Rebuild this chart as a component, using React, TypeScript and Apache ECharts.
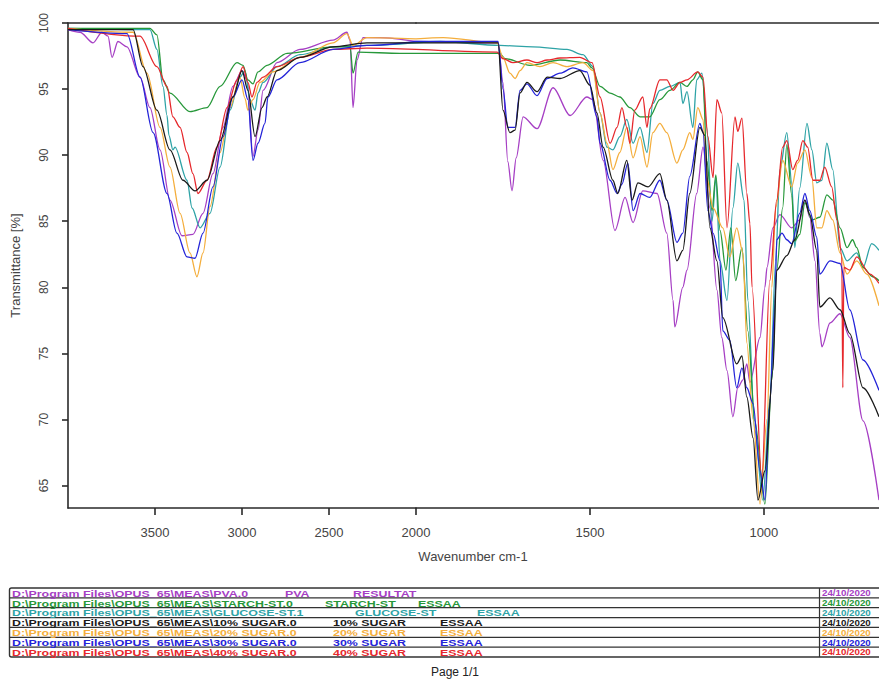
import React, { useEffect, useRef } from "react";
import * as echarts from "echarts";

// ---- axis ticks ----
const xTicksHigh = [2000, 2500, 3000, 3500];
const xTicksLow = [1000, 1500];
const yTicks = [65, 70, 75, 80, 85, 90, 95, 100];

// ---- series (wavenumber cm-1, transmittance %) ----
const pva = [
  [4000, 99.5], [3931, 99.3], [3856, 98.5], [3805, 99.3], [3770, 99.0], [3747, 97.4], [3713, 98.6], [3661, 98.2],
  [3586, 95.9], [3529, 93.6], [3471, 90.4], [3414, 86.6], [3345, 83.9], [3282, 84.0], [3224, 85.6], [3167, 88.6],
  [3109, 92.1], [3052, 95.2], [3000, 96.4], [2971, 95.7], [2937, 89.9], [2908, 91.9], [2879, 94.9], [2799, 97.0],
  [2667, 98.0], [2477, 98.7], [2397, 99.3], [2379, 98.7], [2362, 93.6], [2339, 97.2], [2305, 98.9], [2207, 98.9],
  [2000, 98.6], [1764, 98.5], [1750, 95.5], [1736, 89.5], [1724, 87.3], [1712, 89.8], [1692, 92.9], [1652, 92.0],
  [1606, 95.1], [1557, 93.0], [1509, 94.4], [1491, 94.2], [1462, 89.6], [1428, 84.3], [1399, 86.8], [1376, 84.9],
  [1348, 87.3], [1307, 87.1], [1279, 84.1], [1261, 79.0], [1256, 77.0], [1233, 80.0], [1221, 81.3], [1193, 87.1],
  [1175, 90.6], [1155, 86.0], [1135, 79.8], [1121, 76.2], [1106, 73.7], [1089, 70.2], [1075, 72.4], [1060, 73.0],
  [1049, 74.2], [1040, 72.8], [1011, 76.2], [997, 80.0], [991, 81.5], [974, 84.5], [954, 85.5], [920, 84.5],
  [897, 85.1], [882, 86.6], [868, 85.3], [853, 82.0], [839, 76.5], [833, 75.5], [810, 77.3], [781, 78.0],
  [753, 76.2], [715, 69.9], [669, 63.9],
];
const starch = [
  [4000, 99.6], [3529, 99.6], [3489, 99.1], [3454, 95.7], [3414, 94.7], [3299, 93.3], [3201, 93.6], [3126, 95.2],
  [3029, 97.0], [2994, 96.8], [2966, 95.7], [2937, 95.4], [2908, 96.3], [2856, 96.8], [2741, 97.7], [2477, 98.2],
  [2379, 98.2], [2362, 96.2], [2333, 97.8], [2092, 97.7], [2000, 97.7], [1759, 97.7], [1744, 97.3], [1672, 96.8],
  [1586, 97.2], [1509, 97.0], [1494, 96.6], [1471, 95.2], [1442, 94.7], [1414, 94.4], [1385, 93.6], [1356, 92.9],
  [1328, 92.9], [1299, 94.2], [1270, 94.9], [1241, 95.5], [1221, 95.2], [1204, 95.7], [1190, 96.3], [1175, 95.7],
  [1164, 89.6], [1149, 85.8], [1138, 88.5], [1126, 84.3], [1109, 81.3], [1095, 84.5], [1081, 80.5], [1063, 83.0],
  [1046, 76.7], [1026, 69.9], [997, 63.6], [977, 73.0], [963, 81.3], [946, 86.0], [934, 90.8], [920, 87.0],
  [911, 83.5], [897, 84.0], [882, 86.4], [862, 85.1], [839, 85.3], [819, 87.0], [802, 86.6], [781, 84.5],
  [761, 83.0], [745, 83.6], [733, 83.0], [715, 81.5], [687, 80.8], [669, 80.5],
];
const glucose = [
  [4000, 99.6], [3529, 99.5], [3489, 98.0], [3454, 95.2], [3431, 93.0], [3420, 91.5], [3397, 90.4], [3385, 90.6],
  [3316, 88.1], [3287, 86.0], [3241, 84.5], [3184, 85.6], [3126, 89.1], [3069, 93.4], [3012, 95.9], [2983, 96.4],
  [2954, 94.2], [2925, 93.4], [2908, 94.7], [2879, 95.5], [2799, 96.7], [2667, 97.6], [2477, 98.2], [2282, 98.3],
  [2000, 98.5], [1931, 98.6], [1759, 98.3], [1664, 98.2], [1566, 98.0], [1520, 97.6], [1491, 96.7], [1471, 93.2],
  [1451, 90.6], [1434, 90.4], [1414, 91.4], [1394, 92.7], [1376, 90.9], [1356, 92.1], [1336, 90.2], [1319, 93.9],
  [1299, 94.9], [1270, 95.2], [1241, 95.5], [1233, 93.9], [1221, 94.8], [1204, 92.1], [1193, 95.7], [1178, 96.2],
  [1164, 92.1], [1149, 85.0], [1138, 88.3], [1126, 82.0], [1106, 79.0], [1089, 86.0], [1075, 89.4], [1057, 86.6],
  [1046, 79.0], [1026, 69.2], [1003, 63.9], [983, 71.5], [966, 82.0], [954, 88.9], [934, 91.7], [920, 88.0],
  [911, 83.0], [897, 87.5], [876, 92.4], [862, 90.4], [848, 87.9], [833, 88.1], [819, 90.9], [802, 88.9],
  [781, 83.0], [761, 82.0], [733, 82.6], [715, 81.5], [690, 83.3], [669, 82.8],
];
const sugar10 = [
  [4000, 99.5], [3626, 99.5], [3569, 96.7], [3489, 93.4], [3414, 90.4], [3339, 88.1], [3270, 87.3], [3201, 88.1],
  [3126, 91.1], [3052, 94.4], [3000, 96.4], [2966, 94.9], [2925, 91.4], [2885, 93.6], [2856, 94.4], [2799, 96.4],
  [2667, 97.4], [2477, 98.2], [2282, 98.5], [2000, 98.5], [1764, 98.5], [1750, 93.4], [1730, 91.7], [1715, 91.9],
  [1701, 94.7], [1681, 95.5], [1652, 94.8], [1623, 95.9], [1586, 95.8], [1529, 96.4], [1500, 95.3], [1480, 93.2],
  [1462, 90.6], [1434, 88.1], [1420, 87.1], [1394, 89.6], [1379, 86.6], [1362, 87.9], [1333, 87.6], [1299, 88.6],
  [1279, 86.6], [1250, 82.0], [1233, 82.8], [1213, 87.1], [1184, 92.1], [1170, 91.5], [1155, 84.5], [1135, 82.0],
  [1118, 77.7], [1078, 74.2], [1063, 74.8], [1049, 71.7], [1031, 68.6], [1017, 63.9], [997, 66.1], [974, 73.7],
  [963, 81.3], [934, 82.4], [911, 83.6], [882, 86.6], [868, 85.5], [848, 82.8], [839, 78.5], [810, 79.2],
  [781, 78.3], [753, 76.5], [715, 72.4], [669, 70.2],
];
const sugar20 = [
  [4000, 99.6], [3626, 99.3], [3546, 96.2], [3471, 92.1], [3414, 89.1], [3356, 85.6], [3299, 82.6], [3259, 80.8],
  [3224, 82.6], [3184, 86.1], [3126, 90.2], [3069, 93.6], [3012, 95.9], [2983, 94.3], [2966, 93.4], [2937, 94.2],
  [2897, 95.5], [2822, 96.3], [2667, 97.4], [2477, 98.5], [2397, 99.2], [2362, 98.3], [2282, 98.9], [2000, 98.8],
  [1922, 98.9], [1767, 98.5], [1750, 97.4], [1730, 96.2], [1715, 95.8], [1701, 96.4], [1681, 97.0], [1644, 96.7],
  [1606, 97.0], [1566, 96.7], [1520, 97.0], [1491, 96.4], [1471, 93.2], [1451, 90.9], [1434, 88.9], [1414, 90.2],
  [1394, 92.1], [1376, 89.8], [1356, 91.4], [1336, 89.1], [1319, 91.7], [1299, 92.4], [1279, 91.7], [1250, 89.4],
  [1233, 90.4], [1213, 91.7], [1204, 91.2], [1190, 93.6], [1175, 92.7], [1164, 88.3], [1146, 86.0], [1118, 84.5],
  [1098, 82.3], [1078, 84.5], [1060, 82.6], [1049, 75.8], [1031, 70.0], [1011, 63.6], [991, 70.0], [977, 80.0],
  [966, 86.0], [946, 89.6], [920, 87.6], [903, 89.4], [882, 90.4], [862, 88.3], [848, 84.5], [833, 84.5],
  [819, 85.8], [802, 85.1], [781, 82.6], [761, 81.0], [733, 82.0], [704, 81.0], [669, 78.6],
];
const sugar30 = [
  [4000, 99.5], [3661, 99.2], [3586, 95.9], [3511, 91.7], [3431, 87.1], [3374, 84.1], [3316, 82.3], [3270, 82.2],
  [3224, 84.1], [3167, 87.6], [3109, 91.4], [3052, 94.4], [3000, 95.7], [2966, 94.2], [2937, 89.6], [2908, 90.9],
  [2868, 92.4], [2851, 94.4], [2799, 95.7], [2667, 97.0], [2477, 98.0], [2282, 98.3], [2000, 98.6], [1764, 98.6],
  [1750, 95.0], [1736, 92.1], [1715, 92.1], [1701, 94.9], [1681, 95.4], [1652, 94.5], [1623, 95.8], [1586, 96.2],
  [1549, 96.6], [1509, 96.3], [1480, 92.9], [1471, 90.9], [1442, 88.1], [1422, 87.1], [1408, 87.8], [1391, 89.4],
  [1376, 85.8], [1356, 87.1], [1328, 86.8], [1299, 88.1], [1279, 86.6], [1250, 83.4], [1233, 84.1], [1213, 88.4],
  [1184, 92.4], [1175, 91.8], [1161, 85.8], [1146, 84.1], [1126, 82.0], [1118, 76.7], [1098, 76.0], [1078, 72.4],
  [1063, 73.9], [1049, 72.4], [1031, 71.2], [1011, 66.1], [997, 63.9], [983, 71.2], [968, 78.8], [963, 83.6],
  [948, 84.1], [934, 83.6], [920, 83.3], [897, 85.6], [882, 87.1], [868, 85.8], [848, 83.8], [839, 81.0],
  [810, 82.0], [781, 81.8], [753, 78.3], [715, 74.5], [669, 72.2],
];
const sugar40 = [
  [4000, 99.6], [3586, 99.0], [3489, 96.7], [3431, 95.2], [3397, 92.9], [3356, 92.1], [3316, 90.2], [3282, 88.6],
  [3253, 87.1], [3201, 88.1], [3144, 90.6], [3086, 93.6], [3029, 95.7], [2994, 96.7], [2966, 95.5], [2943, 94.4],
  [2914, 95.5], [2879, 95.9], [2799, 96.7], [2667, 97.4], [2477, 98.0], [2282, 98.1], [2000, 98.0], [1767, 97.8],
  [1750, 97.3], [1721, 97.0], [1681, 97.2], [1652, 97.0], [1623, 97.2], [1586, 97.35], [1529, 97.4], [1494, 97.0],
  [1471, 94.4], [1442, 90.9], [1422, 92.1], [1408, 93.6], [1394, 92.1], [1385, 90.9], [1371, 93.4], [1348, 94.4],
  [1336, 92.1], [1328, 93.5], [1299, 95.7], [1279, 95.7], [1261, 94.9], [1241, 95.5], [1221, 95.7], [1190, 96.3],
  [1175, 95.9], [1161, 91.4], [1146, 88.3], [1135, 94.2], [1121, 93.2], [1106, 84.5], [1083, 92.9], [1075, 91.8],
  [1063, 92.8], [1049, 87.1], [1040, 84.8], [1034, 80.0], [1006, 65.5], [983, 80.5], [963, 86.6], [946, 90.6],
  [934, 91.1], [917, 88.9], [903, 89.6], [888, 91.1], [874, 90.6], [859, 88.1], [839, 88.1], [825, 89.1],
  [805, 87.6], [790, 85.1], [776, 82.4], [773, 72.4], [770, 81.5], [753, 81.3], [733, 82.3], [695, 81.0],
  [669, 80.3],
];

const seriesNames = ["PVA", "STARCH-ST", "GLUCOSE-ST", "10% SUGAR", "20% SUGAR", "30% SUGAR", "40% SUGAR"];
const seriesData = [pva, starch, glucose, sugar10, sugar20, sugar30, sugar40];
const seriesColors = ["#a63fc4", "#27983a", "#2ea3a6", "#1a1a1a", "#f4ae3d", "#2424d8", "#e6282c"];
const drawOrder = [0, 2, 1, 4, 6, 5, 3];

// ---- legend table texts ----
const legendPaths = [
  "D:\\Program Files\\OPUS_65\\MEAS\\PVA.0",
  "D:\\Program Files\\OPUS_65\\MEAS\\STARCH-ST.0",
  "D:\\Program Files\\OPUS_65\\MEAS\\GLUCOSE-ST.1",
  "D:\\Program Files\\OPUS_65\\MEAS\\10% SUGAR.0",
  "D:\\Program Files\\OPUS_65\\MEAS\\20% SUGAR.0",
  "D:\\Program Files\\OPUS_65\\MEAS\\30% SUGAR.0",
  "D:\\Program Files\\OPUS_65\\MEAS\\40% SUGAR.0",
];
const legendInfo = ["RESULTAT", "ESSAA", "ESSAA", "ESSAA", "ESSAA", "ESSAA", "ESSAA"];
const legendDates = ["24/10/2020", "24/10/2020", "24/10/2020", "24/10/2020", "24/10/2020", "24/10/2020", "24/10/2020"];

const FONT = "'Liberation Sans', Arial, sans-serif";

export default function App() {
  const ref = useRef<HTMLDivElement>(null);
  useEffect(() => {
    const el = ref.current;
    if (!el) return;
    const chart = echarts.init(el, null, { renderer: "svg" });

    const YMIN = 63.3;
    const YMAX = 100;
    const XLOWMIN = 669;

    const series: any[] = [];
    drawOrder.forEach((i) => {
      const d = seriesData[i];
      const common = {
        type: "line",
        name: seriesNames[i],
        showSymbol: false,
        symbol: "none",
        smooth: 0.3,
        smoothMonotone: "x",
        lineStyle: { color: seriesColors[i], width: 1.3 },
        itemStyle: { color: seriesColors[i] },
        animation: false,
      };
      series.push({ ...common, xAxisIndex: 0, yAxisIndex: 0, data: d.filter((p) => p[0] >= 2000) });
      series.push({ ...common, xAxisIndex: 1, yAxisIndex: 1, data: d.filter((p) => p[0] <= 2000) });
    });

    const axisLineStyle = { color: "#2a2a2a", width: 1.6 };
    const labelStyle = { color: "#444", fontFamily: FONT };
    const plain = (v: number) => String(v);

    const rowTop = 588;
    const rowH = 9.86;
    const col2 = [285, 325, 355, 333, 333, 333, 333];
    const col3 = [353, 418, 477, 440, 440, 440, 440];
    const graphics: any[] = [];
    graphics.push({
      type: "rect",
      shape: { x: 9.5, y: rowTop, width: 900, height: rowH * 7, r: 2 },
      style: { fill: "none", stroke: "#333", lineWidth: 1.4 },
    });
    for (let i = 1; i < 7; i++) {
      graphics.push({
        type: "line",
        shape: { x1: 9.5, y1: rowTop + i * rowH, x2: 879, y2: rowTop + i * rowH },
        style: { stroke: "#333", lineWidth: 1.2 },
      });
    }
    graphics.push({
      type: "line",
      shape: { x1: 819.5, y1: rowTop, x2: 819.5, y2: rowTop + 7 * rowH },
      style: { stroke: "#333", lineWidth: 1.2 },
    });
    for (let i = 0; i < 7; i++) {
      const y = rowTop + (i + 0.5) * rowH + 0.5;
      const font = `bold 8px ${FONT}`;
      const texts: [number, string, number][] = [
        [12, legendPaths[i], 1.55],
        [col2[i], seriesNames[i], 1.55],
        [col3[i], legendInfo[i], 1.55],
        [822, legendDates[i], 1.22],
      ];
      texts.forEach(([x, t, sx]) => {
        graphics.push({
          type: "text",
          x,
          y,
          scaleX: sx,
          scaleY: 1.1,
          z: 10,
          style: { text: t, fill: seriesColors[i], font, align: "left", verticalAlign: "middle" },
        });
      });
    }
    graphics.push({
      type: "text",
      x: 473,
      y: 556,
      style: { text: "Wavenumber cm-1", fill: "#444", font: `13px ${FONT}`, align: "center", verticalAlign: "middle" },
    });
    graphics.push({
      type: "text",
      x: 455,
      y: 672,
      style: { text: "Page 1/1", fill: "#222", font: `12px ${FONT}`, align: "center", verticalAlign: "middle" },
    });

    const option: any = {
      animation: false,
      backgroundColor: "#ffffff",
      grid: [
        { left: 68, top: 23, width: 348, height: 485 },
        { left: 416, top: 23, width: 463, height: 485 },
      ],
      xAxis: [
        {
          type: "value",
          gridIndex: 0,
          inverse: true,
          min: 2000,
          max: 4000,
          position: "bottom",
          axisLine: { show: true, onZero: false, lineStyle: axisLineStyle },
          axisTick: { show: true, customValues: xTicksHigh, length: 7, lineStyle: axisLineStyle },
          axisLabel: { show: true, customValues: xTicksHigh, formatter: plain, margin: 18, fontSize: 13, ...labelStyle },
          splitLine: { show: false },
        },
        {
          type: "value",
          gridIndex: 1,
          inverse: true,
          min: XLOWMIN,
          max: 2000,
          position: "bottom",
          axisLine: { show: true, onZero: false, lineStyle: axisLineStyle },
          axisTick: { show: true, customValues: xTicksLow, length: 7, lineStyle: axisLineStyle },
          axisLabel: { show: true, customValues: xTicksLow, formatter: plain, margin: 18, fontSize: 13, ...labelStyle },
          splitLine: { show: false },
        },
        {
          type: "value",
          gridIndex: 0,
          inverse: true,
          min: 2000,
          max: 4000,
          position: "top",
          axisLine: { show: true, onZero: false, lineStyle: axisLineStyle },
          axisTick: { show: false },
          axisLabel: { show: false },
          splitLine: { show: false },
        },
        {
          type: "value",
          gridIndex: 1,
          inverse: true,
          min: XLOWMIN,
          max: 2000,
          position: "top",
          axisLine: { show: true, onZero: false, lineStyle: axisLineStyle },
          axisTick: { show: false },
          axisLabel: { show: false },
          splitLine: { show: false },
        },
      ],
      yAxis: [
        {
          type: "value",
          gridIndex: 0,
          min: YMIN,
          max: YMAX,
          name: "Transmittance [%]",
          nameLocation: "middle",
          nameGap: 46,
          nameTextStyle: { fontSize: 13, color: "#444", fontFamily: FONT },
          axisLine: { show: true, onZero: false, lineStyle: axisLineStyle },
          axisTick: { show: true, customValues: yTicks, length: 6, lineStyle: axisLineStyle },
          axisLabel: { show: true, customValues: yTicks, formatter: plain, rotate: 90, margin: 18, fontSize: 12, ...labelStyle },
          splitLine: { show: false },
        },
        {
          type: "value",
          gridIndex: 1,
          min: YMIN,
          max: YMAX,
          show: false,
          splitLine: { show: false },
        },
      ],
      series,
      graphic: graphics,
    };
    chart.setOption(option);
    return () => chart.dispose();
  }, []);
  return (
    <div
      ref={ref}
      style={{ position: "absolute", left: 0, top: 0, width: 879, height: 682, background: "#fff" }}
    />
  );
}
